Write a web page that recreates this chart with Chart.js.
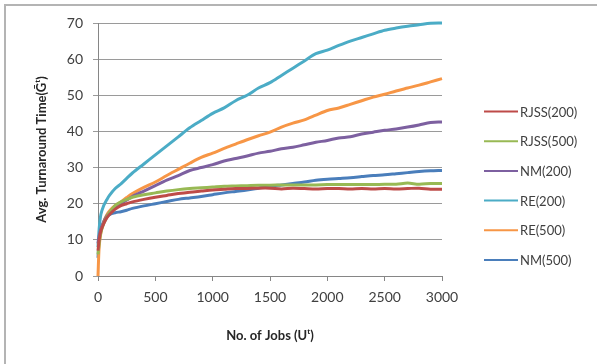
<!DOCTYPE html>
<html>
<head>
<meta charset="utf-8">
<script src="https://cdn.jsdelivr.net/npm/chart.js@4"></script>
<style>
  html, body { margin: 0; padding: 0; background: #fff; }
  #wrap { width: 597px; height: 364px; }
</style>
</head>
<body>
<div id="wrap"><canvas id="c" width="597" height="364"></canvas></div>
<script>
// ---- data ----
const jobs = [0, 10, 25, 50, 75, 100, 150, 200, 250, 300, 400, 500, 600, 700, 800, 900, 1000, 1100, 1200, 1300, 1400, 1500, 1600, 1700, 1800, 1900, 2000, 2100, 2200, 2300, 2400, 2500, 2600, 2700, 2800, 2900, 3000];

const rjss200 = [7, 10, 12.5, 14.5, 16, 17, 18.5, 19.5, 20, 20.5, 21.2, 21.8, 22.3, 22.8, 23.2, 23.5, 23.8, 24, 24.2, 24.2, 24.3, 24.3, 24.1, 24.3, 24.2, 24.1, 24.2, 24.2, 24.1, 24.2, 24.1, 24.2, 24.1, 24.2, 24.3, 24, 24];
const rjss500 = [6, 9, 12, 14.5, 16.2, 17.5, 19.5, 20.5, 21.2, 21.8, 22.5, 23, 23.5, 23.9, 24.2, 24.4, 24.6, 24.8, 24.9, 25, 25.1, 25.1, 25.2, 25.2, 25.2, 25.2, 25.3, 25.3, 25.3, 25.3, 25.3, 25.4, 25.4, 25.7, 25.4, 25.6, 25.6];
const nm200 = [9, 11, 13, 15, 16.5, 17.5, 19, 20, 21, 22, 23.5, 25, 26.5, 27.8, 29.2, 30, 30.8, 31.8, 32.5, 33.2, 34, 34.5, 35.2, 35.6, 36.3, 37, 37.5, 38.2, 38.5, 39.3, 39.8, 40.3, 40.7, 41.2, 41.8, 42.5, 42.6];
const re200 = [8, 13, 17, 19.5, 21, 22.3, 24.2, 25.5, 27, 28.5, 31, 33.5, 36, 38.5, 41, 43, 45, 46.5, 48.5, 50, 52, 53.5, 55.5, 57.5, 59.5, 61.5, 62.5, 63.8, 65, 66, 67, 68, 68.6, 69.1, 69.5, 69.9, 70];
const re500 = [0, 8, 12, 15, 16.8, 18, 19.5, 20.5, 21.7, 22.8, 24.5, 26, 27.8, 29.5, 31.2, 32.8, 34, 35.3, 36.5, 37.7, 38.8, 39.8, 41.2, 42.3, 43.2, 44.5, 45.8, 46.5, 47.5, 48.5, 49.5, 50.3, 51.2, 52, 52.8, 53.7, 54.6];
const nm500 = [5, 10, 13, 15, 16.3, 17, 17.5, 17.8, 18.2, 18.7, 19.4, 20, 20.6, 21.2, 21.6, 22, 22.5, 23, 23.4, 23.8, 24.3, 24.8, 25.2, 25.6, 26, 26.5, 26.8, 27, 27.2, 27.5, 27.8, 28, 28.3, 28.6, 28.9, 29.1, 29.2];

const seriesNames = ["RJSS(200)", "RJSS(500)", "NM(200)", "RE(200)", "RE(500)", "NM(500)"];
const seriesValues = [rjss200, rjss500, nm200, re200, re500, nm500];
const seriesColors = ["#BE4B48", "#98B954", "#7D60A0", "#4BACC6", "#F79646", "#4A7EBB"];

const xTicks = [0, 500, 1000, 1500, 2000, 2500, 3000];
const yTicks = [0, 10, 20, 30, 40, 50, 60, 70];

const FONT = "Lato, 'Open Sans', sans-serif";

const datasets = seriesNames.map((name, i) => ({
  label: name,
  data: jobs.map((x, j) => ({ x: x, y: seriesValues[i][j] })),
  borderColor: seriesColors[i],
  backgroundColor: seriesColors[i],
  borderWidth: 3,
  pointRadius: 0,
  tension: 0.3,
  fill: false,
  clip: 4
}));

const framePlugin = {
  id: 'frame',
  beforeDraw(chart) {
    const ctx = chart.ctx;
    ctx.save();
    ctx.fillStyle = '#fff';
    ctx.fillRect(0, 0, chart.width, chart.height);
    ctx.strokeStyle = '#b4b4b4';
    ctx.lineWidth = 2;
    ctx.beginPath();
    ctx.moveTo(5, chart.height);
    ctx.lineTo(5, 5);
    ctx.lineTo(chart.width, 5);
    ctx.stroke();
    ctx.restore();
  },
  afterDraw(chart) {
    const ctx = chart.ctx;
    ctx.save();
    ctx.font = "13px " + FONT;
    ctx.textBaseline = 'middle';
    ctx.textAlign = 'left';
    chart.data.datasets.forEach((ds, i) => {
      const y = 111.5 + i * 29.7;
      ctx.strokeStyle = ds.borderColor;
      ctx.lineWidth = 2;
      ctx.beginPath();
      ctx.moveTo(484, y);
      ctx.lineTo(518, y);
      ctx.stroke();
      ctx.fillStyle = '#404040';
      ctx.fillText(ds.label, 520, y + 1);
    });
    ctx.restore();
  }
};

new Chart(document.getElementById('c'), {
  type: 'line',
  data: { datasets: datasets },
  plugins: [framePlugin],
  options: {
    responsive: false,
    animation: false,
    devicePixelRatio: 1,
    layout: { padding: { left: 0, right: 155, top: 23, bottom: 0 } },
    plugins: { legend: { display: false }, tooltip: { enabled: false } },
    scales: {
      x: {
        type: 'linear',
        min: 0, max: 3000,
        afterBuildTicks(scale) { scale.ticks = xTicks.map(v => ({ value: v })); },
        afterFit(scale) { scale.height = 88; },
        grid: { display: true, drawOnChartArea: false, drawTicks: true, tickLength: 5, color: '#868686', lineWidth: 1 },
        border: { color: '#868686', width: 1 },
        ticks: { color: '#404040', font: { family: FONT, size: 14 }, padding: 8, maxRotation: 0, callback: v => String(v) },
        title: { display: true, text: 'No. of Jobs (Uᵗ)', color: '#262626', font: { family: FONT, size: 13, weight: 'bold' }, padding: { top: 0, bottom: 20 } }
      },
      y: {
        type: 'linear',
        min: 0, max: 70,
        afterBuildTicks(scale) { scale.ticks = yTicks.map(v => ({ value: v })); },
        afterFit(scale) { scale.width = 98; },
        grid: { display: true, drawTicks: true, tickLength: 5, color: '#9a9a9a', lineWidth: 1 },
        border: { color: '#868686', width: 1 },
        ticks: { color: '#404040', font: { family: FONT, size: 14 }, padding: 10, callback: v => String(v) },
        title: { display: true, text: 'Avg. Turnaround Time(Ḡᵗ)', color: '#262626', font: { family: FONT, size: 13, weight: 'bold' }, padding: { top: 34, bottom: 0 } }
      }
    }
  }
});
</script>
</body>
</html>
